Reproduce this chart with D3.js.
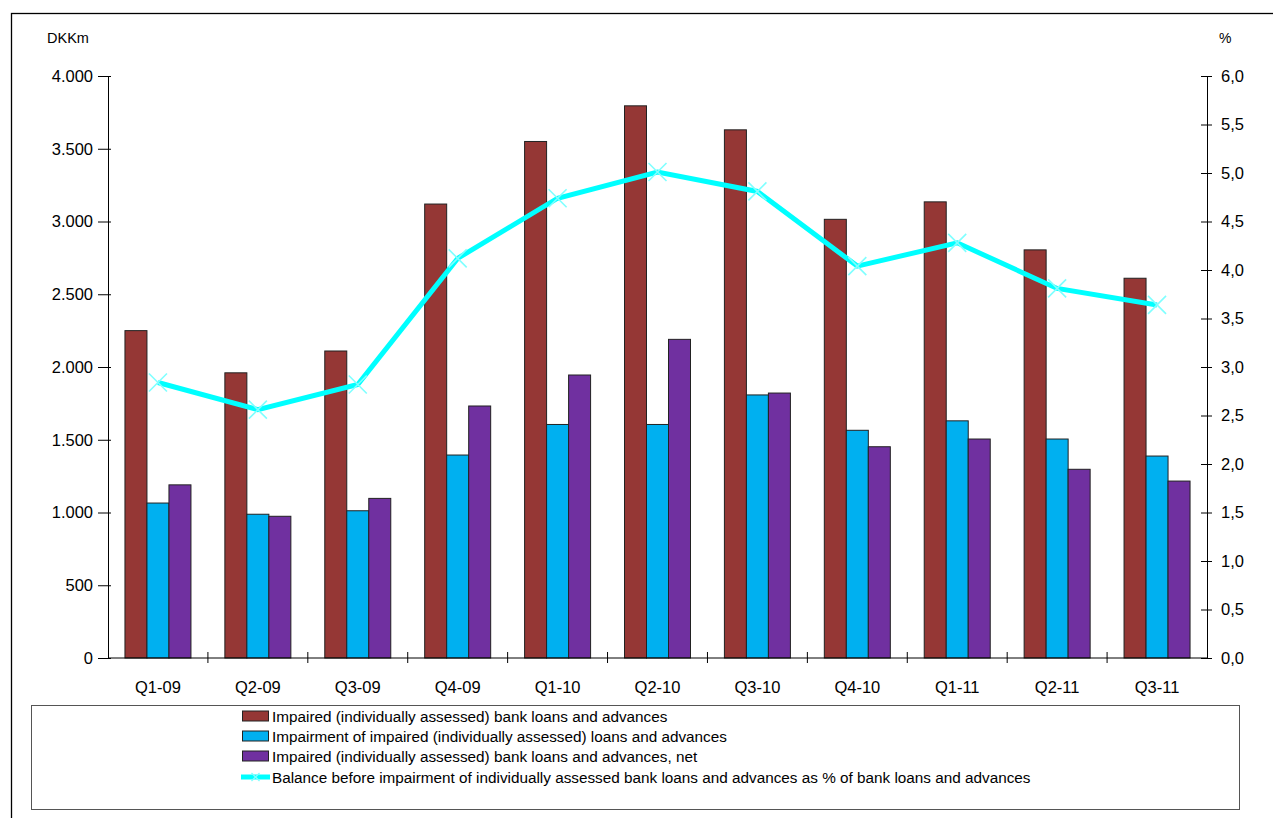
<!DOCTYPE html>
<html>
<head>
<meta charset="utf-8">
<script src="https://cdn.jsdelivr.net/npm/d3@7"></script>
<style>
  html, body { margin: 0; padding: 0; background: #fff; }
  svg { display: block; font-family: Arial, "Liberation Sans", sans-serif; }
</style>
</head>
<body>
<svg id="chart" width="1273" height="818"></svg>
<script>
const categories = ["Q1-09","Q2-09","Q3-09","Q4-09","Q1-10","Q2-10","Q3-10","Q4-10","Q1-11","Q2-11","Q3-11"];
const impairedLoans = [2250, 1960, 2110, 3120, 3550, 3795, 3630, 3015, 3135, 2805, 2610];
const impairmentOfImpaired = [1065, 988, 1012, 1395, 1605, 1605, 1808, 1565, 1630, 1505, 1388];
const impairedNet = [1190, 974, 1097, 1732, 1945, 2190, 1821, 1452, 1505, 1297, 1216];
const balancePct = [2.84, 2.56, 2.82, 4.12, 4.74, 5.01, 4.81, 4.04, 4.28, 3.81, 3.64];
const leftTicks = [0, 500, 1000, 1500, 2000, 2500, 3000, 3500, 4000];
const leftTickLabels = ["0", "500", "1.000", "1.500", "2.000", "2.500", "3.000", "3.500", "4.000"];
const rightTicks = [0, 0.5, 1, 1.5, 2, 2.5, 3, 3.5, 4, 4.5, 5, 5.5, 6];
const rightTickLabels = ["0,0","0,5","1,0","1,5","2,0","2,5","3,0","3,5","4,0","4,5","5,0","5,5","6,0"];
const seriesNames = [
  "Impaired (individually assessed) bank loans and advances",
  "Impairment of impaired (individually assessed) loans and advances",
  "Impaired (individually assessed) bank loans and advances, net",
  "Balance before impairment of individually assessed bank loans and advances as % of bank loans and advances"
];
const leftUnit = "DKKm";
const rightUnit = "%";

const colors = ["#953735", "#00B0F0", "#7030A0", "#00FFFF"];

const svg = d3.select("#chart");
const plot = { left: 108, right: 1207, top: 76, bottom: 658 };

// outer border
svg.append("rect").attr("x", 11.5).attr("y", 13.5).attr("width", 1270).attr("height", 830)
  .attr("fill", "none").attr("stroke", "#000").attr("stroke-width", 1.3);

const x = d3.scaleBand().domain(categories).range([plot.left, plot.right]).paddingInner(0).paddingOuter(0);
const xInner = d3.scaleBand().domain([0,1,2]).range([0, 66]);
const yL = d3.scaleLinear().domain([0, 4000]).range([plot.bottom, plot.top]);
const yR = d3.scaleLinear().domain([0, 6]).range([plot.bottom, plot.top]);

// bars
const barSeries = [impairedLoans, impairmentOfImpaired, impairedNet];
const groupOffset = (x.bandwidth() - 66) / 2;
barSeries.forEach((vals, si) => {
  svg.append("g").selectAll("rect").data(vals).join("rect")
    .attr("x", (d, i) => x(categories[i]) + groupOffset + xInner(si))
    .attr("y", d => yL(d))
    .attr("width", xInner.bandwidth())
    .attr("height", d => yL(0) - yL(d))
    .attr("fill", colors[si])
    .attr("stroke", "#222")
    .attr("stroke-width", 1);
});

// left axis
const axL = svg.append("g").attr("transform", `translate(${plot.left},0)`)
  .call(d3.axisLeft(yL).tickValues(leftTicks).tickFormat((d, i) => leftTickLabels[i]).tickSizeOuter(0).tickSizeInner(10).tickPadding(5));
axL.selectAll(".tick line").attr("x2", -10).attr("x1", 3).attr("stroke", "#000");
axL.select(".domain").attr("stroke", "#000");
axL.selectAll("text").attr("font-size", "16.5px").attr("fill", "#000").attr("font-family", "Arial, 'Liberation Sans', sans-serif");

// right axis
const axR = svg.append("g").attr("transform", `translate(${plot.right},0)`)
  .call(d3.axisRight(yR).tickValues(rightTicks).tickFormat((d, i) => rightTickLabels[i]).tickSizeOuter(0).tickSizeInner(6).tickPadding(8));
axR.selectAll(".tick line").attr("x1", -6).attr("x2", 5).attr("stroke", "#000");
axR.select(".domain").attr("stroke", "#000");
axR.selectAll("text").attr("font-size", "16.5px").attr("fill", "#000").attr("font-family", "Arial, 'Liberation Sans', sans-serif");

// bottom axis
const axB = svg.append("g").attr("transform", `translate(0,${plot.bottom})`)
  .call(d3.axisBottom(x).tickSize(0).tickPadding(0));
axB.select(".domain").attr("d", `M${plot.left},0H${plot.right}`).attr("stroke", "#000");
axB.selectAll("text").attr("font-size", "16.5px").attr("fill", "#000").attr("y", 35).attr("dy", 0)
  .attr("font-family", "Arial, 'Liberation Sans', sans-serif");
// category boundary ticks
const bounds = categories.slice(1).map(c => x(c));
axB.append("g").selectAll("line").data(bounds).join("line")
  .attr("x1", d => d).attr("x2", d => d).attr("y1", -6).attr("y2", 5).attr("stroke", "#000");

// unit labels
svg.append("text").attr("x", 47).attr("y", 43).attr("font-size", "14.5px").attr("fill", "#000").text(leftUnit);
svg.append("text").attr("x", 1219).attr("y", 43).attr("font-size", "14px").attr("fill", "#000").text(rightUnit);

// line
const cx = (i) => x(categories[i]) + x.bandwidth() / 2;
const line = d3.line().x((d, i) => cx(i)).y(d => yR(d));
svg.append("path").datum(balancePct).attr("d", line)
  .attr("fill", "none").attr("stroke", colors[3]).attr("stroke-width", 5).attr("stroke-linejoin", "miter");
const m = 9;
const markers = svg.append("g").selectAll("path").data(balancePct).join("path")
  .attr("d", (d, i) => { const px = cx(i), py = yR(d); return `M${px-m},${py-m}L${px+m},${py+m}M${px-m},${py+m}L${px+m},${py-m}`; })
  .attr("stroke", "#7FFFFF").attr("stroke-width", 1.6).attr("fill", "none");

// legend
svg.append("rect").attr("x", 31.5).attr("y", 705.5).attr("width", 1208).attr("height", 104)
  .attr("fill", "#fff").attr("stroke", "#555").attr("stroke-width", 1);
const legY = [716, 736, 756, 777];
const lg = svg.append("g");
seriesNames.forEach((name, i) => {
  const y0 = legY[i];
  if (i < 3) {
    lg.append("rect").attr("x", 242.5).attr("y", y0 - 5).attr("width", 26).attr("height", 10)
      .attr("fill", colors[i]).attr("stroke", "#222").attr("stroke-width", 1);
  } else {
    lg.append("line").attr("x1", 241).attr("x2", 270).attr("y1", y0).attr("y2", y0)
      .attr("stroke", colors[3]).attr("stroke-width", 5);
    lg.append("path").attr("d", `M${255.5-4},${y0-4}L${255.5+4},${y0+4}M${255.5-4},${y0+4}L${255.5+4},${y0-4}`)
      .attr("stroke", "#7FFFFF").attr("stroke-width", 1.3);
  }
  lg.append("text").attr("x", 272).attr("y", y0 + 5.5).attr("font-size", "15.3px").attr("fill", "#000").text(name);
});
</script>
</body>
</html>
